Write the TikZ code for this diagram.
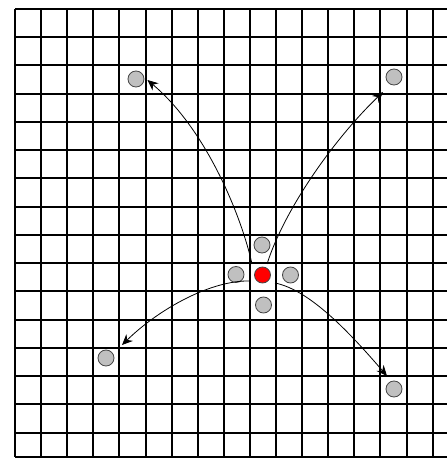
\documentclass[tikz,border=0pt]{standalone}
\usetikzlibrary{arrows.meta}
\definecolor{silverfill}{RGB}{192,192,192}
\definecolor{outlinegray}{RGB}{70,70,70}
\begin{document}
\begin{tikzpicture}[x=0.75pt,y=0.75pt,
  gridline/.style={line width=1.5pt,black},
  dot/.style={circle,fill=silverfill,draw=outlinegray,line width=0.6pt,minimum size=12pt,inner sep=0pt},
  hotdot/.style={dot,fill=red},
  jump/.style={line width=0.6pt,-{Stealth[length=8pt,width=7pt]}}]
\useasboundingbox (0,0) rectangle (447,458);
\fill[white] (0,0) rectangle (447,458);
% grid
\foreach \k in {0,...,16} \draw[gridline] ({round(15+26.1*\k)},1) -- ({round(15+26.1*\k)},449);
\foreach \j in {0,...,15} \draw[gridline] (15,{round(449-28.25*\j)}) -- (447,{round(449-28.25*\j)});
\draw[gridline] (15,1) -- (447,1);
% cells
\node[dot] (tl) at (136,379) {};
\node[dot] (tr) at (394,381) {};
\node[dot] (top) at (262,213) {};
\node[dot] (left) at (236,183.5) {};
\node[hotdot] (mid) at (262.5,183) {};
\node[dot] (right) at (290.5,183) {};
\node[dot] (bottom) at (263.5,153) {};
\node[dot] (bl) at (106,100) {};
\node[dot] (br) at (394,69) {};
% start points of the jumps
\coordinate (s1) at (252,194);
\coordinate (s2) at (267,194);
\coordinate (s3) at (250,177);
\coordinate (s4) at (275,175);
% jumps
\draw[jump] (s1) .. controls (242,240) and (207,328) .. ([shift={(3,-1)}]tl.east);
\draw[jump] (s2) .. controls (285,250) and (335,320) .. ([shift={(-11,-15)}]tr.center);
\draw[jump] (s3) .. controls (212,178) and (160,150) .. ([shift={(16,13)}]bl.center);
\draw[jump] (s4) .. controls (310,168) and (350,125) .. ([shift={(-7,13)}]br.center);
\end{tikzpicture}
\end{document}
